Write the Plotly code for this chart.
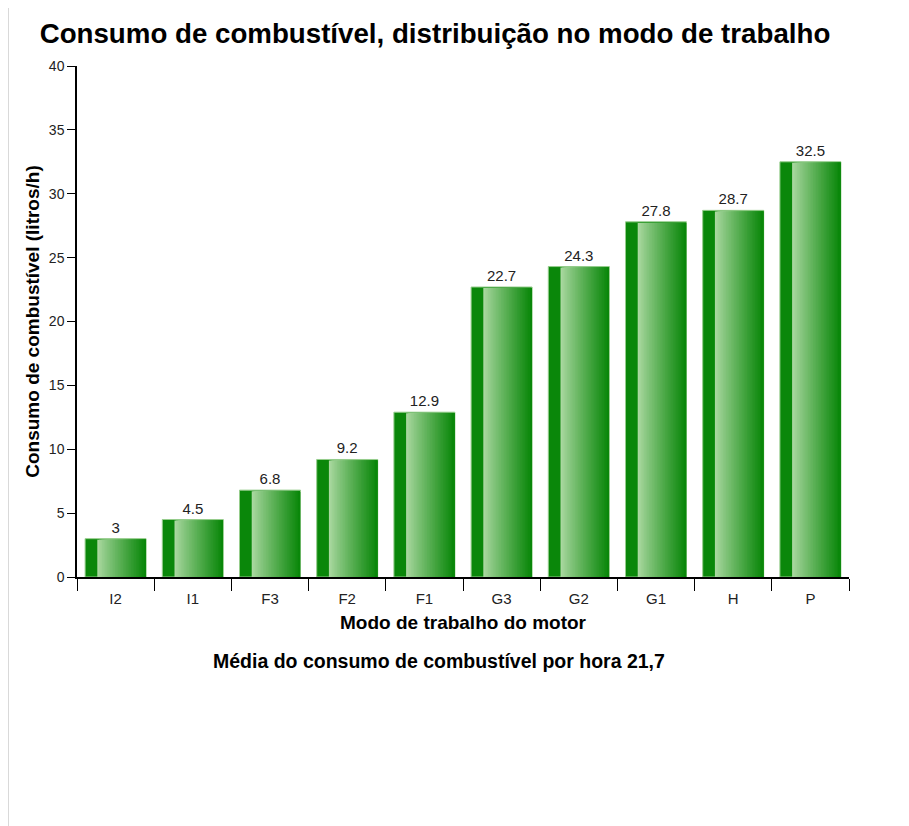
import plotly.graph_objects as go

modos = ['I2', 'I1', 'F3', 'F2', 'F1', 'G3', 'G2', 'G1', 'H', 'P']
consumo = [3, 4.5, 6.8, 9.2, 12.9, 22.7, 24.3, 27.8, 28.7, 32.5]
media_texto = 'Média do consumo de combustível por hora 21,7'

BAR_W = 0.79
ESCURO = (10, 135, 10)
CLARO = (170, 216, 160)
N_FATIAS = 30

# área do gráfico em px (a página desloca tudo 8px)
L, R, T, B = 69, 68, 58, 257
PW, PH = 909 - L - R, 826 - T - B


def mix(a, b, t):
    return 'rgb({},{},{})'.format(*[round(a[i] + (b[i] - a[i]) * t) for i in range(3)])


fig = go.Figure()

# barra base (faixa escura + rótulo de valor)
fig.add_trace(go.Bar(
    x=modos, y=consumo, width=BAR_W,
    marker=dict(color=mix(ESCURO, ESCURO, 0), line=dict(color='rgb(150,205,140)', width=1)),
    text=[f'{v:g}' for v in consumo], textposition='outside', cliponaxis=False,
    textfont=dict(size=15, color='#222', family='Liberation Sans, Arial'),
    hoverinfo='x+y', showlegend=False,
))

# degradê: cada fatia vai do seu início até a borda direita, sobrepostas
inicio = -BAR_W / 2 + BAR_W * 0.2
fim = BAR_W / 2 - 0.006
passo = (fim - inicio) / N_FATIAS
for i in range(N_FATIAS):
    t = i / (N_FATIAS - 1)
    off = inicio + i * passo
    fig.add_trace(go.Bar(
        x=modos, y=[v - 0.08 for v in consumo], width=fim - off, offset=off,
        marker=dict(color=mix(CLARO, ESCURO, t ** 0.9), line=dict(width=0)),
        hoverinfo='skip', showlegend=False,
    ))

fig.update_layout(
    width=909, height=826,
    barmode='overlay',
    plot_bgcolor='white', paper_bgcolor='white',
    margin=dict(l=L, r=R, t=T, b=B),
    font=dict(family='Liberation Sans, Arial', color='#222'),
    title=dict(text='<b>Consumo de combustível, distribuição no modo de trabalho</b>',
               x=427 / 909, xanchor='center', y=1 - 25 / 826, yanchor='middle',
               font=dict(size=27.7, color='black')),
    xaxis=dict(
        type='category', tickson='boundaries', ticks='outside', ticklen=12, tickcolor='black',
        showline=True, linecolor='black', linewidth=2, showgrid=False,
        tickfont=dict(size=15, color='#222'), ticklabelstandoff=7,
        title=dict(text='<b>Modo de trabalho do motor</b>', font=dict(size=19, color='black'), standoff=10),
    ),
    yaxis=dict(
        range=[0, 40], dtick=5, ticks='outside', ticklen=8, tickcolor='black',
        showline=True, linecolor='black', linewidth=1.5, showgrid=False, zeroline=False,
        tickfont=dict(size=14, color='#222'),
        title=dict(text='<b>Consumo de combustível (litros/h)</b>', font=dict(size=19, color='black'), standoff=4),
    ),
    annotations=[dict(
        text=f'<b>{media_texto}</b>', xref='paper', yref='paper',
        x=(431 - L) / PW, y=-84 / PH, xanchor='center', yanchor='middle',
        showarrow=False, font=dict(size=19.5, color='black'),
    )],
    shapes=[dict(type='line', xref='paper', yref='paper',
                 x0=-L / PW, x1=-L / PW, y0=-B / PH, y1=(PH + T) / PH,
                 line=dict(color='#cccccc', width=1.5))],
)

fig.write_html('out.html')
